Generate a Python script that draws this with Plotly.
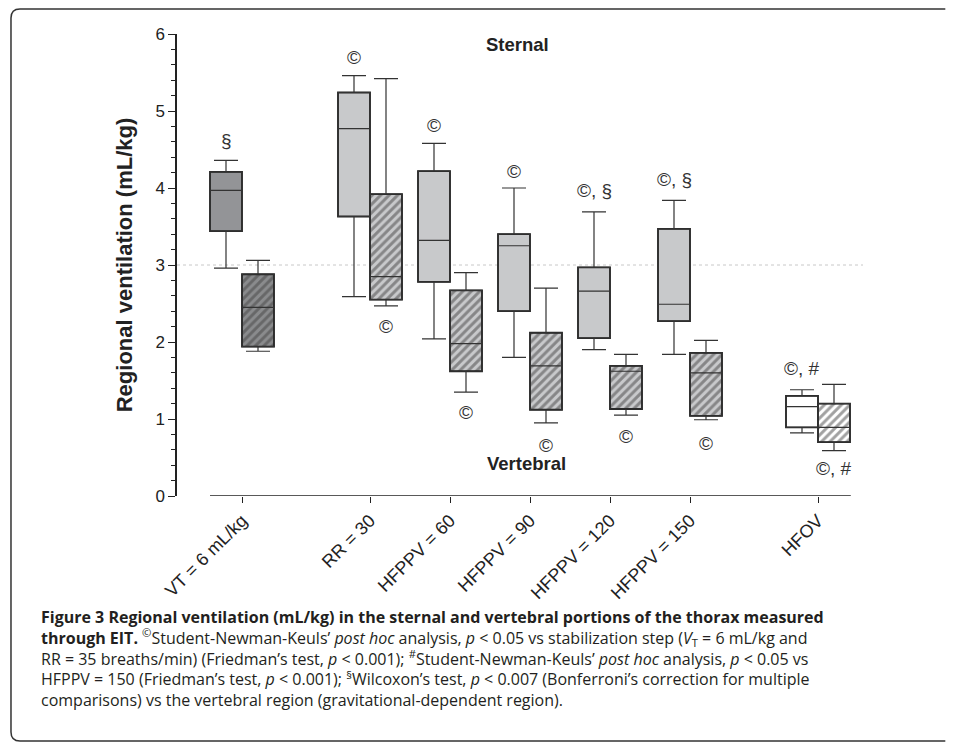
import plotly.graph_objects as go

# Conditions (x axis) and where each group sits on the numeric x axis
conditions = ["VT = 6 mL/kg", "RR = 30", "HFPPV = 60", "HFPPV = 90",
              "HFPPV = 120", "HFPPV = 150", "HFOV"]
TICK_POS = [0, 1.6, 2.6, 3.6, 4.6, 5.6, 7.2]
OFFSET = 0.2
BOX_W = 0.4

# Sternal region (mL/kg)
st_low = [2.96, 2.59, 2.04, 1.80, 1.90, 1.84, 0.82]
st_q1 = [3.44, 3.63, 2.78, 2.40, 2.05, 2.27, 0.89]
st_med = [3.97, 4.77, 3.32, 3.25, 2.66, 2.49, 1.16]
st_q3 = [4.21, 5.24, 4.22, 3.40, 2.97, 3.47, 1.30]
st_high = [4.36, 5.46, 4.58, 4.00, 3.69, 3.84, 1.38]

# Vertebral region (mL/kg)
vt_low = [1.88, 2.47, 1.35, 0.95, 1.05, 0.99, 0.59]
vt_q1 = [1.94, 2.55, 1.62, 1.12, 1.13, 1.04, 0.70]
vt_med = [2.45, 2.85, 1.98, 1.69, 1.62, 1.60, 0.89]
vt_q3 = [2.88, 3.92, 2.67, 2.12, 1.69, 1.86, 1.20]
vt_high = [3.06, 5.42, 2.90, 2.70, 1.84, 2.02, 1.45]

# significance marks
st_marks = ["§", "©", "©", "©", "©, §", "©, §", "©, #"]
st_mark_y = [4.62, 5.69, 4.81, 4.21, 3.97, 4.11, 1.66]
vt_marks = ["", "©", "©", "©", "©", "©", "©, #"]
vt_mark_y = [None, 2.20, 1.08, 0.66, 0.77, 0.68, 0.36]

st_fill = ["#939497", "#c8c9cb", "#c8c9cb", "#c8c9cb", "#c8c9cb", "#c8c9cb", "#ffffff"]
vt_fill = ["#8a8b8d", "#c8c9cb", "#c8c9cb", "#c8c9cb", "#c8c9cb", "#c8c9cb", "#ffffff"]

FONT = "Liberation Sans, Arial, sans-serif"
CAP_FONT = "Open Sans, sans-serif"

x_st = [p - OFFSET for p in TICK_POS]
x_vt = [p + OFFSET for p in TICK_POS]

fig = go.Figure()

# box bodies (fill + hatch) as floating bars
fig.add_trace(go.Bar(
    x=x_st, y=[b - a for a, b in zip(st_q1, st_q3)], base=st_q1,
    width=BOX_W, marker=dict(color=st_fill, line=dict(color="#222", width=1.8)),
    showlegend=False, hoverinfo="skip",
))
fig.add_trace(go.Bar(
    x=x_vt, y=[b - a for a, b in zip(vt_q1, vt_q3)], base=vt_q1,
    width=BOX_W,
    marker=dict(color=vt_fill, line=dict(color="#222", width=1.8),
                pattern=dict(shape="/", fillmode="overlay", fgcolor="#111",
                             size=6, solidity=0.5)),
    showlegend=False, hoverinfo="skip",
))

# medians + whiskers
for xs, lo, q1, med, q3, hi in [(x_st, st_low, st_q1, st_med, st_q3, st_high),
                                (x_vt, vt_low, vt_q1, vt_med, vt_q3, vt_high)]:
    fig.add_trace(go.Box(
        x=xs, q1=q1, median=med, q3=q3, lowerfence=lo, upperfence=hi,
        width=BOX_W, whiskerwidth=0.75, fillcolor="rgba(0,0,0,0)",
        line=dict(color="#333", width=1.2), boxpoints=False,
        showlegend=False, hoverinfo="skip",
    ))

for x, t, y in zip(x_st, st_marks, st_mark_y):
    fig.add_annotation(x=x, y=y, text=t, showarrow=False,
                       font=dict(family=FONT, size=19, color="#333"))
for x, t, y in zip(x_vt, vt_marks, vt_mark_y):
    if t:
        fig.add_annotation(x=x, y=y, text=t, showarrow=False,
                           font=dict(family=FONT, size=19, color="#333"))

fig.add_annotation(x=3.44, y=5.86, text="<b>Sternal</b>", showarrow=False,
                   font=dict(family=FONT, size=18.5, color="#222"))
fig.add_annotation(x=3.56, y=0.42, text="<b>Vertebral</b>", showarrow=False,
                   font=dict(family=FONT, size=18.5, color="#222"))

# reference line at 3 and the detached x axis line
fig.add_shape(type="line", xref="paper", x0=0, x1=1, y0=3, y1=3,
              line=dict(color="#c8c8c8", width=1, dash="dot"), layer="below")
fig.add_shape(type="line", x0=-0.4, x1=7.61, y0=0, y1=0,
              line=dict(color="#222", width=1.5))

# caption
caption = "<br>".join([
    "<b>Figure 3 Regional ventilation (mL/kg) in the sternal and vertebral portions of the thorax measured</b>",
    "<b>through EIT.</b> <sup>©</sup>Student-Newman-Keuls’ <i>post hoc</i> analysis, <i>p</i> &lt; 0.05 vs stabilization step (<i>V</i><sub>T</sub> = 6 mL/kg and",
    "RR = 35 breaths/min) (Friedman’s test, <i>p</i> &lt; 0.001); <sup>#</sup>Student-Newman-Keuls’ <i>post hoc</i> analysis, <i>p</i> &lt; 0.05 vs",
    "HFPPV = 150 (Friedman’s test, <i>p</i> &lt; 0.001); <sup>§</sup>Wilcoxon’s test, <i>p</i> &lt; 0.007 (Bonferroni’s correction for multiple",
    "comparisons) vs the vertebral region (gravitational-dependent region).",
])
fig.add_annotation(xref="paper", yref="paper", x=-0.2012, y=-0.2338, text=caption,
                   xanchor="left", yanchor="top", align="left", showarrow=False,
                   font=dict(family=CAP_FONT, size=16, color="#231f20"))

# rounded frame around figure + caption (open on the right)
L, T, B, R = -0.242, 1.0541, -0.5303, 1.12
rx, ry = 0.0131, 0.0195
fig.add_shape(type="path", xref="paper", yref="paper",
              path=(f"M {R},{T} L {L + rx},{T} Q {L},{T} {L},{T - ry} "
                    f"L {L},{B + ry} Q {L},{B} {L + rx},{B} L {R},{B}"),
              line=dict(color="#333", width=1.5))

fig.update_layout(
    width=942, height=734,
    margin=dict(l=169, r=87, t=26, b=246),
    plot_bgcolor="white", paper_bgcolor="white",
    barmode="overlay", boxmode="overlay",
    showlegend=False,
    font=dict(family=FONT, color="#222"),
    xaxis=dict(range=[-0.8125, 7.7625], tickvals=TICK_POS, ticktext=conditions,
               tickangle=-45, ticks="outside", ticklen=6, tickcolor="#222",
               showline=False, showgrid=False, zeroline=False,
               tickfont=dict(family=FONT, size=18, color="#222")),
    yaxis=dict(range=[0, 6], dtick=1, ticks="outside", ticklen=7, tickcolor="#222",
               showline=True, linecolor="#222", linewidth=1.5,
               showgrid=False, zeroline=False,
               minor=dict(dtick=0.2, ticks="outside", ticklen=4, tickcolor="#222"),
               tickfont=dict(family=FONT, size=17, color="#222"),
               title=dict(text="<b>Regional ventilation (mL/kg)</b>", standoff=17,
                          font=dict(family=FONT, size=22, color="#222"))),
)

fig.write_html("out.html")
